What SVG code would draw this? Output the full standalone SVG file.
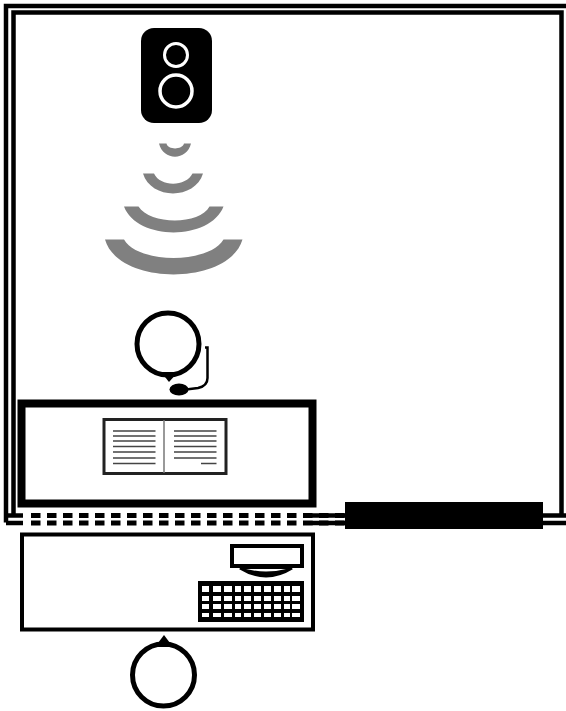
<svg xmlns="http://www.w3.org/2000/svg" width="566" height="711" viewBox="0 0 566 711">
<style>
.k{fill:none;stroke:#000}
.w{fill:#808080}
.t{stroke:#444;stroke-width:1.5;fill:none}
</style>
<rect width="566" height="711" fill="#fff"/>
<g id="room-wall">
<path class="k" stroke-width="4.5" d="M6 522.500V6H569"/>
<path class="k" stroke-width="4.500" d="M13.500 515.500V12.500H561.500V515.500"/>
<path class="k" stroke-width="4.500" d="M6 523H23M6 515.500H23" stroke-dasharray="none"/>
<path class="k" stroke-width="5" stroke-dasharray="9.500 6.500" d="M31 515.500H345M31 523H345"/>
<path class="k" stroke-width="4.500" d="M312 515.500H345M312 523H345M543 515.500H566M543 523H566"/>
</g>
<g id="screen"><rect x="345" y="502" width="198" height="27" fill="#000"/></g>
<g id="speaker">
<rect x="141" y="28" width="71" height="95" rx="13" fill="#000"/>
<circle cx="176" cy="55" r="11.500" fill="none" stroke="#fff" stroke-width="3"/>
<circle cx="176" cy="91" r="16" fill="none" stroke="#fff" stroke-width="3.500"/>
</g>
<g id="sound-waves">
<path class="w" d="M159 143.500H166.500C168 150 182 150 184 143.500H191C187 161 163 161 159 143.500Z"/>
<path class="w" d="M143 173.500H154C160 187 186 187 192.500 173.500H203C195 200 151 200 143 173.500Z"/>
<path class="w" d="M124 206.500H138.500C150 225 200 225 209.500 206.500H223.500C210 241 137 241 124 206.500Z"/>
<path class="w" d="M105 239.500H124C138 264 209 264 223.500 239.500H242.500C229 286 118 286 105 239.500Z"/>
</g>
<g id="listener">
<circle cx="168" cy="344" r="31" fill="#fff" stroke="#000" stroke-width="5"/>
<path d="M161 372H178L169 382Z" fill="#000"/>
<ellipse cx="179" cy="389.500" rx="9.500" ry="6" fill="#000"/>
<path class="k" stroke-width="2.500" d="M205 347.500H207.500V378Q207.500 386 198 388L186 389.500"/>
</g>
<g id="desk-book">
<rect x="21.500" y="403.500" width="291" height="100" fill="#fff" stroke="#000" stroke-width="8"/>
<rect x="104" y="419.500" width="122" height="54" fill="#fff" stroke="#222" stroke-width="3"/>
<path d="M164 420V473" stroke="#777" stroke-width="1.500"/>
<path class="t" d="M113 431H155.500M113 436H155.500M113 441H155.500M113 446.500H155.500M113 452H155.500M113 458H155.500M113 463.500H155.500M174 431H216.500M174 436H216.500M174 441H216.500M174 446.500H216.500M174 452H216.500M174 458H216.500M201 463.500H216.500"/>
</g>
<g id="desk-computer">
<rect x="22" y="534.500" width="291" height="95" fill="#fff" stroke="#000" stroke-width="4"/>
<rect x="232" y="546" width="70" height="20" fill="#fff" stroke="#000" stroke-width="4"/>
<path d="M240 568Q266 584 292 568" fill="#000" stroke="#000" stroke-width="3"/>
<path d="M246 569Q266 574 286 569" fill="#fff" stroke="none"/>
<rect x="198" y="581" width="106" height="41" fill="#000"/>
<g fill="#fff">
<path d="M202 586h7v6h-7zM213 586h8v6h-8zM224 586h8v6h-8zM235 586h6v6h-6zM244 586h7v6h-7zM254 586h7v6h-7zM264 586h7v6h-7zM274 586h7v6h-7zM284 586h6v6h-6zM292 586h8v6h-8z"/>
<path d="M202 596h7v5h-7zM213 596h8v5h-8zM224 596h8v5h-8zM235 596h6v5h-6zM244 596h7v5h-7zM254 596h7v5h-7zM264 596h7v5h-7zM274 596h7v5h-7zM284 596h6v5h-6zM292 596h8v5h-8z"/>
<path d="M202 604h7v5h-7zM213 604h8v5h-8zM224 604h8v5h-8zM235 604h6v5h-6zM244 604h7v5h-7zM254 604h7v5h-7zM264 604h7v5h-7zM274 604h7v5h-7zM284 604h6v5h-6zM292 604h8v5h-8z"/>
<path d="M202 613h7v4h-7zM213 613h8v4h-8zM224 613h8v4h-8zM235 613h6v4h-6zM244 613h7v4h-7zM254 613h7v4h-7zM264 613h7v4h-7zM274 613h7v4h-7zM284 613h6v4h-6zM292 613h8v4h-8z"/>
</g>
</g>
<g id="operator">
<circle cx="163.500" cy="675" r="31" fill="#fff" stroke="#000" stroke-width="5"/>
<path d="M155 647L164 635L173 647Z" fill="#000"/>
</g>
</svg>
